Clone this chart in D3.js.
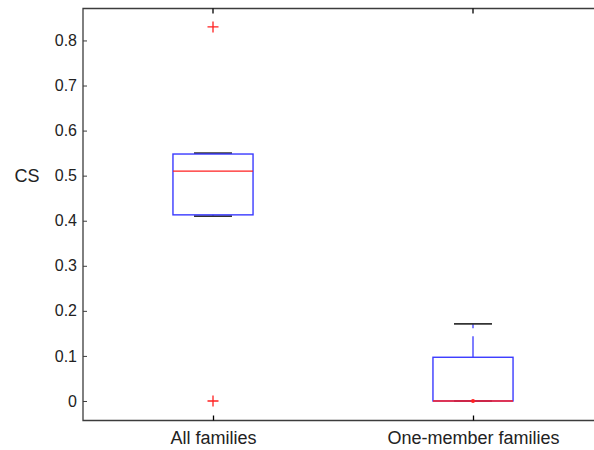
<!DOCTYPE html>
<html>
<head>
<meta charset="utf-8">
<script src="https://cdn.jsdelivr.net/npm/d3@7"></script>
<style>
  html, body { margin: 0; padding: 0; background: #fff; }
  svg { display: block; }
  text { font-family: Arial, "Liberation Sans", sans-serif; }
</style>
</head>
<body>
<svg id="chart" width="594" height="450"></svg>
<script>
// Box plot data: one entry per group
const categories = ["All families", "One-member families"];
const whiskerLow = [0.41, 0];
const q1 = [0.413, 0];
const median = [0.51, 0];
const q3 = [0.548, 0.097];
const whiskerHigh = [0.55, 0.171];
const outlierPlus = [[0.83, 0], []];
const outlierDot = [[], [0]];
const yTicks = [0, 0.1, 0.2, 0.3, 0.4, 0.5, 0.6, 0.7, 0.8];
const yLabel = "CS";

const svg = d3.select("#chart");
const plotLeft = 83, plotTop = 8.5, plotBottom = 420.5, plotRight = 603;

const x = d3.scaleLinear().domain([0.5, 2.5]).range([plotLeft, plotRight]);
const y = d3.scaleLinear().domain([-0.0433, 0.8709]).range([plotBottom, plotTop]);

const axisColor = "#3c3c3c";
const blue = "#3a3aff";
const red = "#ff2020";

// Frame (left, top, bottom edges)
svg.append("path")
  .attr("d", `M${plotRight},${plotTop}H${plotLeft}V${plotBottom}H${plotRight}`)
  .attr("fill", "none").attr("stroke", axisColor).attr("stroke-width", 1.3);

// Y axis: ticks pointing inward
const yAxis = d3.axisLeft(y).tickValues(yTicks).tickSizeInner(-4).tickSizeOuter(0)
  .tickPadding(6).tickFormat(d => d === 0 ? "0" : d3.format(".1f")(d));
const gy = svg.append("g").attr("transform", `translate(${plotLeft},0)`).call(yAxis);
gy.select(".domain").remove();
gy.selectAll("line").attr("stroke", axisColor);
gy.selectAll("text").attr("font-size", 16).attr("fill", "#222");

// X axis: ticks pointing inward from bottom and top
const xAxis = d3.axisBottom(x).tickValues([1, 2]).tickSizeInner(-5).tickSizeOuter(0)
  .tickPadding(11).tickFormat((d, i) => categories[i]);
const gx = svg.append("g").attr("transform", `translate(0,${plotBottom})`).call(xAxis);
gx.select(".domain").remove();
gx.selectAll("line").attr("stroke", "#000").attr("stroke-width", 1.3);
gx.selectAll("text").attr("font-size", 18).attr("fill", "#222");

svg.append("g").selectAll("line").data([1, 2]).join("line")
  .attr("x1", d => x(d)).attr("x2", d => x(d))
  .attr("y1", plotTop).attr("y2", plotTop + 5)
  .attr("stroke", "#000").attr("stroke-width", 1.3);

// Y label
svg.append("text").attr("x", 27).attr("y", y(0.5) + 6)
  .attr("text-anchor", "middle").attr("font-size", 18).attr("fill", "#222").text(yLabel);

const halfBox = 0.154;   // box half width in category units
const halfCap = 0.073;   // whisker cap half width

const groups = svg.append("g").selectAll("g").data(categories).join("g");

groups.each(function(c, i) {
  const g = d3.select(this);
  const cx = x(i + 1);
  // Whiskers (dashed)
  g.append("line").attr("x1", cx).attr("x2", cx)
    .attr("y1", y(q3[i])).attr("y2", y(whiskerHigh[i]))
    .attr("stroke", blue).attr("stroke-width", 1.3).attr("stroke-dasharray", "21,8");
  g.append("line").attr("x1", cx).attr("x2", cx)
    .attr("y1", y(q1[i])).attr("y2", y(whiskerLow[i]))
    .attr("stroke", blue).attr("stroke-width", 1.3).attr("stroke-dasharray", "21,8");
  // Caps
  [whiskerHigh[i], whiskerLow[i]].forEach(v => {
    g.append("line")
      .attr("x1", x(i + 1 - halfCap)).attr("x2", x(i + 1 + halfCap))
      .attr("y1", y(v)).attr("y2", y(v))
      .attr("stroke", "#333").attr("stroke-width", 1.8);
  });
  // Box
  g.append("rect")
    .attr("x", x(i + 1 - halfBox)).attr("width", x(i + 1 + halfBox) - x(i + 1 - halfBox))
    .attr("y", y(q3[i])).attr("height", y(q1[i]) - y(q3[i]))
    .attr("fill", "none").attr("stroke", blue).attr("stroke-width", 1.4);
  // Median
  g.append("line")
    .attr("x1", x(i + 1 - halfBox)).attr("x2", x(i + 1 + halfBox))
    .attr("y1", y(median[i])).attr("y2", y(median[i]))
    .attr("stroke", red).attr("stroke-width", 1.3);
  // Outliers as '+'
  outlierPlus[i].forEach(v => {
    g.append("path")
      .attr("d", `M${cx - 5.5},${y(v)}H${cx + 5.5}M${cx},${y(v) - 5.5}V${y(v) + 5.5}`)
      .attr("stroke", red).attr("stroke-width", 1.3).attr("fill", "none");
  });
  outlierDot[i].forEach(v => {
    g.append("circle").attr("cx", cx).attr("cy", y(v)).attr("r", 2).attr("fill", red);
  });
});
</script>
</body>
</html>
